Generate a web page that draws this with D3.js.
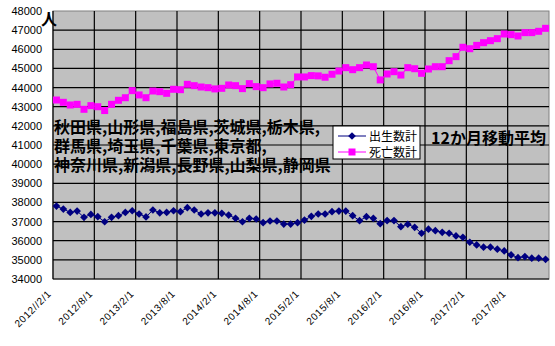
<!DOCTYPE html>
<html>
<head>
<meta charset="utf-8">
<script src="https://cdn.jsdelivr.net/npm/d3@7"></script>
<style>
  body { margin: 0; background: #fff; }
  svg { display: block; font-family: "Liberation Sans", Arial, sans-serif; }
  .jp { font-family: "Noto Sans CJK JP", sans-serif; }
</style>
</head>
<body>
<svg id="chart" width="555" height="346"></svg>
<script>
// tick labels on the date axis (one every 6 months)
const tickLabels = ["2012//2/1", "2012/8/1", "2013/2/1", "2013/8/1", "2014/2/1", "2014/8/1",
                    "2015/2/1", "2015/8/1", "2016/2/1", "2016/8/1", "2017/2/1", "2017/8/1"];

// 12-month moving average, births (2012/2 .. 2018/1)
const births = [37810, 37655, 37480, 37550, 37220, 37375, 37255, 36990, 37220, 37305, 37480, 37565,
                37395, 37240, 37605, 37460, 37480, 37565, 37515, 37725, 37605, 37395, 37460, 37460,
                37430, 37340, 37170, 36990, 37170, 37135, 36940, 37030, 37030, 36870, 36870, 36940,
                37080, 37275, 37395, 37395, 37515, 37550, 37550, 37305, 37045, 37255, 37170, 36890,
                37050, 37050, 36735, 36860, 36700, 36390, 36600, 36525, 36440, 36390, 36250, 36180,
                35920, 35780, 35660, 35660, 35555, 35465, 35260, 35115, 35170, 35085, 35085, 35030];

// 12-month moving average, deaths
const deaths = [43350, 43230, 43090, 43125, 42865, 43055, 43000, 42800, 43125, 43335, 43470, 43840,
                43615, 43470, 43820, 43785, 43700, 43910, 43890, 44170, 44100, 44030, 43995, 43930,
                43960, 44135, 44100, 43945, 44205, 44050, 43995, 44190, 44225, 44030, 44150, 44555,
                44555, 44625, 44610, 44540, 44695, 44865, 45040, 44935, 45040, 45180, 45090, 44400,
                44710, 44830, 44655, 45040, 44985, 44745, 44970, 45090, 45090, 45405, 45615, 46105,
                46030, 46205, 46345, 46450, 46555, 46800, 46765, 46695, 46870, 46870, 46940, 47095];

const seriesNames = ["出生数計", "死亡数計"];
const prefLines = ["秋田県,山形県,福島県,茨城県,栃木県,",
                   "群馬県,埼玉県,千葉県,東京都,",
                   "神奈川県,新潟県,長野県,山梨県,静岡県"];

const plot = { left: 53, right: 549, top: 11, bottom: 279 };
const svg = d3.select("#chart");

// month index scale, points sit in the middle of each month
const x = d3.scaleLinear().domain([0, births.length]).range([plot.left, plot.right]);
const y = d3.scaleLinear().domain([34000, 48000]).range([plot.bottom, plot.top]);
const cx = i => x(i + 0.5);

// plot background
svg.append("rect")
   .attr("x", plot.left).attr("y", plot.top)
   .attr("width", plot.right - plot.left).attr("height", plot.bottom - plot.top)
   .attr("fill", "#c0c0c0").attr("stroke", "#808080");

// horizontal gridlines
const yTicks = d3.range(34000, 48001, 1000);
svg.append("g").selectAll("line")
   .data(yTicks.slice(1, -1))
   .join("line")
   .attr("x1", plot.left).attr("x2", plot.right)
   .attr("y1", d => y(d)).attr("y2", d => y(d))
   .attr("stroke", "#000").attr("stroke-width", 1.2);

// vertical gridlines every 6 months
svg.append("g").selectAll("line")
   .data(d3.range(6, births.length, 6))
   .join("line")
   .attr("x1", d => x(d)).attr("x2", d => x(d))
   .attr("y1", plot.top).attr("y2", plot.bottom)
   .attr("stroke", "#000").attr("stroke-width", 1.2);

// axis lines
svg.append("line").attr("x1", plot.left).attr("x2", plot.left)
   .attr("y1", plot.top).attr("y2", plot.bottom).attr("stroke", "#000").attr("stroke-width", 1.2);
svg.append("line").attr("x1", plot.left).attr("x2", plot.right)
   .attr("y1", plot.bottom).attr("y2", plot.bottom).attr("stroke", "#000").attr("stroke-width", 1.2);

// y axis labels
const yAxis = svg.append("g")
   .attr("transform", `translate(${plot.left},0)`)
   .call(d3.axisLeft(y).tickValues(yTicks).tickSize(0).tickPadding(11).tickFormat(d3.format("d")));
yAxis.select(".domain").remove();
yAxis.selectAll("text").attr("font-size", 11).attr("fill", "#000")
     .attr("font-family", "'Liberation Sans', Arial, sans-serif");

// x axis labels, rotated
const xAxis = svg.append("g")
   .attr("transform", `translate(0,${plot.bottom})`)
   .call(d3.axisBottom(x).tickValues(d3.range(0, births.length, 6)).tickSize(0)
          .tickFormat(d => tickLabels[d / 6]));
xAxis.select(".domain").remove();
xAxis.selectAll("text")
     .attr("font-size", 10).attr("fill", "#000")
     .attr("font-family", "'Liberation Sans', Arial, sans-serif")
     .attr("letter-spacing", 0.6)
     .attr("text-anchor", "end")
     .attr("y", 0).attr("dy", "0.35em")
     .attr("transform", "translate(-4,13) rotate(-45)");

// unit label
svg.append("text").attr("class", "jp")
   .attr("x", 49).attr("y", 25).attr("text-anchor", "middle")
   .attr("font-size", 16).attr("font-weight", 700).text("人");

// prefecture list
svg.append("g").selectAll("text")
   .data(prefLines)
   .join("text")
   .attr("class", "jp")
   .attr("x", 54).attr("y", (d, i) => 133 + i * 19)
   .attr("font-size", 16).attr("font-weight", 700).attr("fill", "#000")
   .text(d => d);

// lines
const line = d3.line().x((d, i) => cx(i)).y(d => y(d));
svg.append("path").datum(deaths).attr("d", line)
   .attr("fill", "none").attr("stroke", "#ff00ff").attr("stroke-width", 1);
svg.append("path").datum(births).attr("d", line)
   .attr("fill", "none").attr("stroke", "#000080").attr("stroke-width", 1);

// markers
svg.append("g").selectAll("rect")
   .data(deaths)
   .join("rect")
   .attr("x", (d, i) => cx(i) - 3.5).attr("y", d => y(d) - 3.5)
   .attr("width", 7).attr("height", 7)
   .attr("fill", "#ff00ff");
const diamond = d3.symbol().type(d3.symbolDiamond2).size(38);
svg.append("g").selectAll("path")
   .data(births)
   .join("path")
   .attr("transform", (d, i) => `translate(${cx(i)},${y(d)})`)
   .attr("d", diamond)
   .attr("fill", "#000080");

// legend
const legend = svg.append("g").attr("transform", "translate(333,126)");
legend.append("rect").attr("width", 87).attr("height", 33)
      .attr("fill", "#fff").attr("stroke", "#000").attr("stroke-width", 1);
const colors = ["#000080", "#ff00ff"];
seriesNames.forEach((name, i) => {
  const ly = 10 + i * 16;
  legend.append("line").attr("x1", 5).attr("x2", 33).attr("y1", ly).attr("y2", ly)
        .attr("stroke", colors[i]);
  if (i === 0) {
    legend.append("path").attr("transform", `translate(19,${ly})`).attr("d", diamond).attr("fill", colors[i]);
  } else {
    legend.append("rect").attr("x", 15.5).attr("y", ly - 3.5).attr("width", 7).attr("height", 7)
          .attr("fill", colors[i]);
  }
  legend.append("text").attr("class", "jp")
        .attr("x", 36).attr("y", ly + 4.5)
        .attr("font-size", 12).attr("fill", "#000").text(name);
});

// moving average note
svg.append("text").attr("class", "jp")
   .attr("x", 431).attr("y", 144)
   .attr("font-size", 16).attr("font-weight", 700).attr("fill", "#000")
   .text("12か月移動平均");
</script>
</body>
</html>
